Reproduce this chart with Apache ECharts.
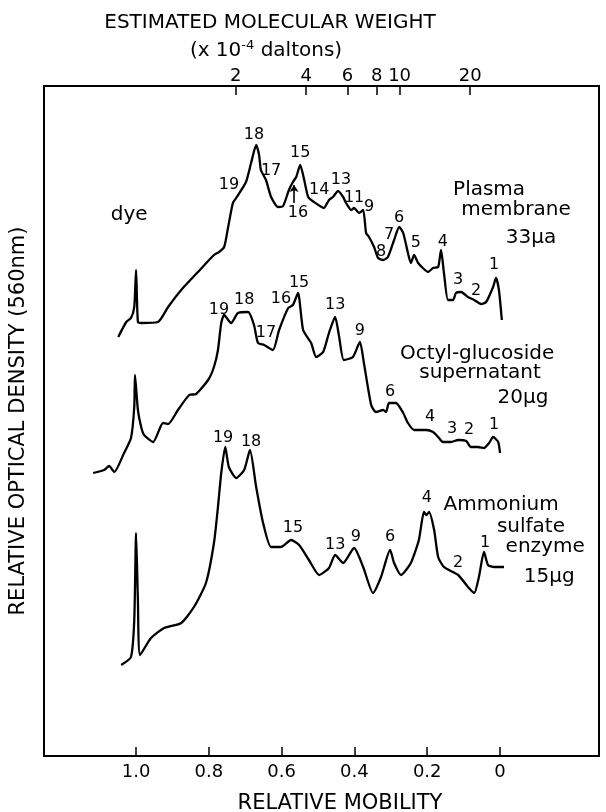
<!DOCTYPE html>
<html>
<head>
<meta charset="utf-8">
<script src="https://cdn.jsdelivr.net/npm/echarts@6/dist/echarts.min.js"></script>
<style>
  html, body { margin: 0; padding: 0; background: #fff; }
  #chart { width: 606px; height: 812px; }
</style>
</head>
<body>
<div id="chart"></div>
<script>
// densitometer scans: [relative mobility, relative optical density]
var plasmaMembrane = [
  [1.049,419],[1.027,434],[1.014,438],[1.005,449],[1.000,486],[0.995,434],[0.986,433],[0.940,434],
  [0.912,449],[0.876,466],[0.830,484],[0.786,501],[0.772,504],[0.758,509],[0.747,529],[0.734,553],
  [0.725,558],[0.698,574],[0.684,593],[0.670,611],[0.662,601],[0.657,586],[0.643,576],[0.629,559],
  [0.610,549],[0.596,550],[0.580,566],[0.569,574],[0.560,579],[0.549,591],[0.538,576],[0.527,559],
  [0.511,554],[0.484,548],[0.470,556],[0.459,559],[0.445,565],[0.431,559],[0.423,553],[0.409,546],
  [0.401,548],[0.387,543],[0.376,546],[0.368,523],[0.360,519],[0.346,509],[0.335,498],[0.321,496],
  [0.308,499],[0.291,516],[0.277,529],[0.266,523],[0.253,503],[0.245,493],[0.236,501],[0.225,493],
  [0.212,488],[0.198,484],[0.184,488],[0.170,489],[0.162,506],[0.154,483],[0.143,456],[0.129,456],
  [0.121,463],[0.107,464],[0.088,459],[0.071,456],[0.052,452],[0.038,454],[0.019,469],[0.011,478],
  [0.003,466],[-0.005,436]
];
var octylSupernatant = [
  [1.118,283],[1.088,286],[1.074,290],[1.060,284],[1.033,303],[1.014,318],[1.005,349],[1.003,381],
  [0.995,346],[0.986,329],[0.978,321],[0.953,314],[0.926,333],[0.912,332],[0.885,346],[0.854,361],
  [0.835,362],[0.802,376],[0.786,389],[0.775,406],[0.766,433],[0.758,441],[0.739,433],[0.720,443],
  [0.692,444],[0.676,431],[0.665,413],[0.648,411],[0.624,406],[0.607,426],[0.582,448],[0.569,451],
  [0.555,463],[0.541,426],[0.519,413],[0.505,399],[0.486,404],[0.470,423],[0.453,439],[0.442,419],
  [0.429,396],[0.404,399],[0.385,414],[0.374,393],[0.354,351],[0.341,344],[0.321,346],[0.313,344],
  [0.305,353],[0.286,353],[0.266,343],[0.253,333],[0.236,326],[0.203,326],[0.184,324],[0.170,319],
  [0.157,314],[0.135,314],[0.115,316],[0.093,315],[0.080,309],[0.060,309],[0.044,308],[0.030,313],
  [0.019,319],[0.005,314],[0.000,303]
];
var ammoniumEnzyme = [
  [1.041,91],[1.014,99],[1.005,136],[1.000,223],[0.995,156],[0.989,101],[0.959,118],[0.923,128],
  [0.876,133],[0.841,149],[0.808,173],[0.786,213],[0.775,249],[0.766,283],[0.755,309],[0.745,289],
  [0.725,278],[0.703,286],[0.687,306],[0.670,269],[0.651,233],[0.629,209],[0.602,209],[0.574,216],
  [0.552,211],[0.525,196],[0.497,181],[0.470,188],[0.453,201],[0.431,193],[0.401,208],[0.376,189],
  [0.349,163],[0.327,179],[0.302,206],[0.291,193],[0.272,181],[0.245,193],[0.223,216],[0.209,244],
  [0.202,241],[0.195,244],[0.181,226],[0.170,199],[0.154,189],[0.115,181],[0.088,169],[0.071,163],
  [0.058,179],[0.044,204],[0.033,191],[0.016,189],[-0.011,189]
];

// band numbers: [mobility, density, label]
var plasmaBands = [
  [0.745,571,'19'],[0.676,621,'18'],[0.629,585,'17'],[0.549,603,'15'],[0.555,543,'16'],
  [0.497,566,'14'],[0.437,576,'13'],[0.401,558,'11'],[0.360,549,'9'],[0.327,504,'8'],
  [0.305,521,'7'],[0.277,538,'6'],[0.231,513,'5'],[0.157,514,'4'],[0.115,476,'3'],
  [0.066,465,'2'],[0.016,491,'1']
];
var octylBands = [
  [0.772,446,'19'],[0.703,456,'18'],[0.643,423,'17'],[0.602,457,'16'],[0.552,473,'15'],
  [0.453,451,'13'],[0.385,425,'9'],[0.302,364,'6'],[0.192,339,'4'],[0.132,327,'3'],
  [0.085,326,'2'],[0.016,331,'1']
];
var ammoniumBands = [
  [0.761,318,'19'],[0.684,314,'18'],[0.569,228,'15'],[0.453,211,'13'],[0.396,219,'9'],
  [0.302,219,'6'],[0.201,258,'4'],[0.115,193,'2'],[0.041,213,'1']
];
var sampleNotes = [
  [1.019,541,'dye'],
  [0.030,566,'Plasma'],[-0.044,546,'membrane'],[-0.085,518,'33μa'],
  [0.063,402,'Octyl-glucoside'],[0.055,383,'supernatant'],[-0.063,358,'20μg'],
  [-0.003,251,'Ammonium'],[-0.085,229,'sulfate'],[-0.124,209,'enzyme'],[-0.135,179,'15μg']
];
var band16Arrow = [[0.566,553],[0.566,571]];

var mobilityTicks = [1.0, 0.8, 0.6, 0.4, 0.2, 0];
var weightTicks = [2, 4, 6, 8, 10, 20];

var font = 'DejaVu Sans';
var ink = '#000';
var chart = echarts.init(document.getElementById('chart'));

function curve(name, data) {
  return {
    name: name,
    type: 'line',
    data: data,
    symbol: 'none',
    smooth: 0.2,
    lineStyle: { color: ink, width: 2.3 },
    z: 3
  };
}
function labels(name, data, size) {
  return {
    name: name,
    type: 'scatter',
    data: data,
    symbolSize: 1,
    itemStyle: { color: 'rgba(0,0,0,0)', opacity: 1 },
    label: {
      show: true,
      position: 'inside',
      formatter: function (p) { return p.value[2]; },
      color: ink,
      fontFamily: font,
      fontSize: size
    },
    silent: true,
    z: 4
  };
}

var plasmaSeries = curve('Plasma membrane', plasmaMembrane);
plasmaSeries.markLine = {
  silent: true,
  symbol: ['none', 'arrow'],
  symbolSize: 7,
  label: { show: false },
  lineStyle: { color: ink, width: 1.6, type: 'solid' },
  data: [[{ coord: band16Arrow[0] }, { coord: band16Arrow[1] }]]
};

chart.setOption({
  backgroundColor: '#fff',
  animation: false,
  title: [{
    text: 'ESTIMATED MOLECULAR WEIGHT',
    left: 265, top: 8, textAlign: 'center',
    textStyle: { fontFamily: font, fontSize: 20, fontWeight: 'normal', color: ink }
  }, {
    text: '(x 10{s|-4} daltons)',
    left: 261, top: 34, textAlign: 'center',
    textStyle: {
      fontFamily: font, fontSize: 20, fontWeight: 'normal', color: ink,
      rich: { s: { fontFamily: font, fontSize: 13, color: ink, verticalAlign: 'top', padding: [0, 0, 10, 0] } }
    }
  }, {
    text: 'RELATIVE MOBILITY',
    left: 335, top: 788, textAlign: 'center',
    textStyle: { fontFamily: font, fontSize: 21, fontWeight: 'normal', color: ink }
  }],
  grid: { left: 43, right: 7, top: 86, bottom: 56 },
  xAxis: [{
    type: 'value',
    inverse: true,
    min: -0.272, max: 1.253,
    axisLine: { show: true, onZero: false, lineStyle: { color: ink, width: 2 } },
    axisTick: { show: true, inside: true, length: 9, lineStyle: { color: ink, width: 1.5 }, customValues: mobilityTicks },
    axisLabel: {
      show: true, margin: 7, color: ink, fontFamily: font, fontSize: 18,
      customValues: mobilityTicks,
      formatter: function (v) { return v === 0 ? '0' : v.toFixed(1); }
    },
    splitLine: { show: false }
  }, {
    type: 'log',
    position: 'top',
    min: 0.305, max: 70.8,
    axisLine: { show: true, onZero: false, lineStyle: { color: ink, width: 2 } },
    axisTick: { show: true, inside: true, length: 9, lineStyle: { color: ink, width: 1.5 }, customValues: weightTicks },
    axisLabel: { show: true, margin: 1, color: ink, fontFamily: font, fontSize: 18, customValues: weightTicks },
    splitLine: { show: false }
  }],
  yAxis: [{
    type: 'value',
    min: 0, max: 670,
    name: 'RELATIVE OPTICAL DENSITY (560nm)',
    nameLocation: 'middle',
    nameGap: 15,
    nameTextStyle: { fontFamily: font, fontSize: 21, color: ink },
    axisLine: { show: true, onZero: false, lineStyle: { color: ink, width: 2 } },
    axisTick: { show: false },
    axisLabel: { show: false },
    splitLine: { show: false }
  }, {
    type: 'value',
    position: 'right',
    min: 0, max: 670,
    axisLine: { show: true, onZero: false, lineStyle: { color: ink, width: 2 } },
    axisTick: { show: false },
    axisLabel: { show: false },
    splitLine: { show: false }
  }],
  series: [
    plasmaSeries,
    curve('Octyl-glucoside supernatant', octylSupernatant),
    curve('Ammonium sulfate enzyme', ammoniumEnzyme),
    labels('plasma bands', plasmaBands, 16),
    labels('octyl bands', octylBands, 16),
    labels('ammonium bands', ammoniumBands, 16),
    labels('notes', sampleNotes, 20)
  ]
});
</script>
</body>
</html>
